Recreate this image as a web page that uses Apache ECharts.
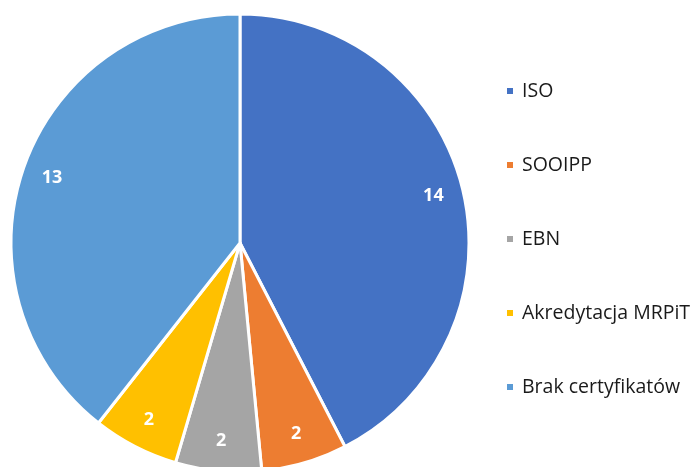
<!DOCTYPE html>
<html><head><meta charset="utf-8">
<script src="https://cdn.jsdelivr.net/npm/echarts@6/dist/echarts.min.js"></script>
<style>html,body{margin:0;padding:0;background:#fff}#c{width:699px;height:467px}</style>
</head><body><div id="c"></div>
<script>
const categories = ['ISO', 'SOOIPP', 'EBN', 'Akredytacja MRPiT', 'Brak certyfikatów'];
const values = [14, 2, 2, 2, 13];
const colors = ['#4472C4', '#ED7D31', '#A5A5A5', '#FFC000', '#5B9BD5'];

const data = categories.map((n, i) => ({ name: n, value: values[i], itemStyle: { color: colors[i] } }));
const chart = echarts.init(document.getElementById('c'));
chart.setOption({
  animation: false,
  legend: {
    orient: 'vertical', left: 500, top: 74,
    icon: 'rect', itemWidth: 8, itemHeight: 8, itemGap: 50,
    textStyle: { fontFamily: 'Open Sans', fontSize: 19.5, color: '#1a1a1a', lineHeight: 24, padding: [0, 0, 0, 3] },
    data: categories
  },
  series: [
    {
      type: 'pie', center: [240, 243], radius: [0, 229], startAngle: 90, clockwise: true,
      data: data,
      label: { show: false }, labelLine: { show: false },
      itemStyle: { borderColor: '#fff', borderWidth: 3 },
      emphasis: { disabled: true }
    },
    {
      type: 'pie', center: [240, 243], radius: [166, 226], startAngle: 90, clockwise: true,
      silent: true, legendHoverLink: false,
      data: data.map(d => ({ name: d.name, value: d.value, itemStyle: { color: 'rgba(0,0,0,0)' } })),
      label: { show: true, position: 'inside', formatter: '{c}', color: '#fff', fontFamily: 'Open Sans', fontWeight: 'bold', fontSize: 18 },
      labelLine: { show: false },
      emphasis: { disabled: true }
    }
  ]
});
</script></body></html>
